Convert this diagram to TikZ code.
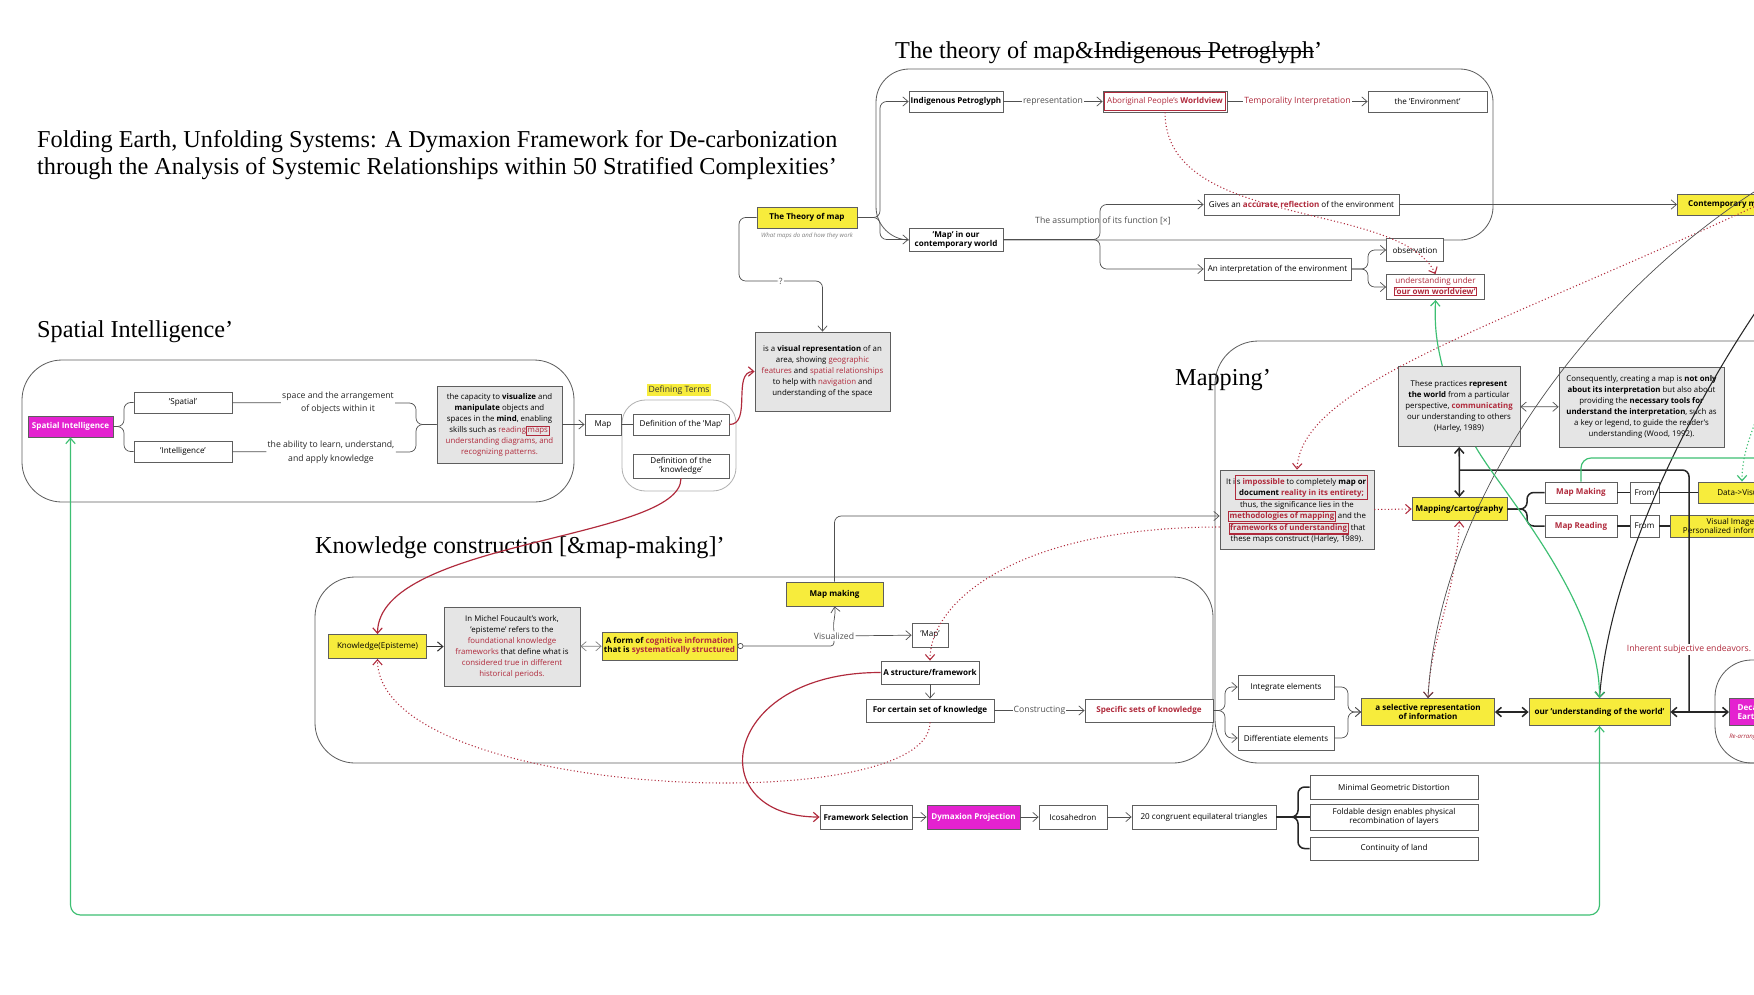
\documentclass[tikz,border=0pt]{standalone}
\usepackage{fontspec}
\setmainfont{Open Sans}
\newfontfamily\headfont{Liberation Serif}
\usetikzlibrary{positioning,arrows.meta}

\definecolor{ink}{HTML}{505050}
\definecolor{boxline}{HTML}{5E5E5E}
\definecolor{notefill}{HTML}{E5E5E5}
\definecolor{hilite}{HTML}{F7EC3C}
\definecolor{magent}{HTML}{E422D0}
\definecolor{wine}{HTML}{B02A3C}
\definecolor{leaf}{HTML}{3DBF72}

\newcommand{\rtxt}[1]{\textcolor{wine}{#1}}
\newcommand{\rbf}[1]{\textcolor{wine}{\textbf{#1}}}
\newcommand{\rframe}[2][notefill]{{\setlength{\fboxsep}{0.5pt}\setlength{\fboxrule}{0.9pt}\fcolorbox{wine}{#1}{#2}}}
\newsavebox{\strikebox}
\newcommand{\strikeout}[1]{\sbox{\strikebox}{#1}\rlap{\rule[0.27em]{\wd\strikebox}{0.05em}}\usebox{\strikebox}}

\begin{document}
\begin{tikzpicture}[x=0.3mm, y=-0.3mm,
  >={Straight Barb[length=1.6mm,width=2.8mm]},
  box/.style={draw=boxline, line width=0.7pt, fill=white, rectangle, inner sep=1pt, font=\fontsize{6.9}{7.8}\selectfont, align=center},
  bbox/.style={box, font=\fontsize{6.9}{7.8}\selectfont\bfseries},
  ybox/.style={box, fill=hilite},
  ybbox/.style={bbox, fill=hilite},
  mbox/.style={bbox, fill=magent, text=white},
  gbox/.style={box, fill=notefill, font=\fontsize{6.7}{9.4}\selectfont},
  lbl/.style={font=\fontsize{7.4}{11.5}\selectfont, text=ink, align=center, inner sep=1pt},
  grp/.style={draw=boxline, line width=0.7pt},
  ttl/.style={font=\headfont\fontsize{20.7}{22.5}\selectfont, anchor=west, inner sep=0pt, align=left},
  arr/.style={->, line width=0.6pt, draw=ink},
  link/.style={line width=0.6pt, draw=ink},
  heavy/.style={line width=1.3pt, draw=black!85},
  wred/.style={->, line width=1pt, draw=wine},
  dotr/.style={->, line width=0.9pt, draw=wine, dotted},
  lgreen/.style={line width=1pt, draw=leaf}
]
\useasboundingbox (0,0) rectangle (1754,994);
\fill[white] (0,0) rectangle (1754,994);

\node[ttl] (headmain) at (37,155) {Folding Earth, Unfolding Systems: A Dymaxion Framework for De-carbonization\\through the Analysis of Systemic Relationships within 50 Stratified Complexities’};
\node[ttl] (headtheory) at (895,53) {The theory of map\&\strikeout{Indigenous Petroglyph}’};
\node[ttl] (headspatial) at (37,332) {Spatial Intelligence’};
\node[ttl] (headknow) at (315,548) {Knowledge construction [\&map-making]’};
\node[ttl] (headmap) at (1175,380) {Mapping’};

\draw[grp, rounded corners=10mm] (876,69) rectangle (1493,240);
\draw[grp, rounded corners=12mm] (22,360) rectangle (574,502);
\draw[grp, rounded corners=12mm] (315,577) rectangle (1213,763);
\draw[grp, rounded corners=13mm] (1215,341) rectangle (1850,763);
\draw[grp, rounded corners=11mm] (1715,660) rectangle (1850,763);
\draw[grp, draw=gray!60, rounded corners=7mm] (622,400) rectangle (736,491);

\node[bbox, minimum width=28.2mm, minimum height=6.3mm] (ip) at (956,101.5) {Indigenous Petroglyph};
\node[box, minimum width=37.2mm, minimum height=6.3mm] (abo) at (1165,101.5) {\rtxt{Aboriginal People's \textbf{Worldview}}};
\draw[wine, line width=0.9pt] ([shift={(1.6pt,-1.6pt)}]abo.north west) rectangle ([shift={(-1.6pt,1.6pt)}]abo.south east);
\node[box, minimum width=35.7mm, minimum height=6.3mm] (env) at (1427.5,101.5) {the 'Environment'};
\node[ybbox, minimum width=30mm, minimum height=6.3mm] (theory) at (807,217.5) {The Theory of map};
\node[font=\fontsize{5.2}{6}\selectfont\itshape, text=gray] (theorycap) at (807,236) {What maps do and how they work};
\node[bbox, minimum width=28.2mm, minimum height=6.9mm] (cmap) at (956,239.5) {'Map' in our\\contemporary world};
\node[gbox, minimum width=40.5mm, minimum height=23.7mm] (visrep) at (822.5,371.5) {is a \textbf{visual representation} of an\\area, showing \rtxt{geographic}\\\rtxt{features} and \rtxt{spatial relationships}\\to help with \rtxt{navigation} and\\understanding of the space};
\node[box, minimum width=58.5mm, minimum height=6.3mm] (gives) at (1301.5,204.5) {Gives an \rbf{accurate reflection} of the environment};
\node[box, minimum width=44.1mm, minimum height=6.6mm] (interp) at (1277.5,269) {An interpretation of the environment};
\node[box, minimum width=17.1mm, minimum height=6.9mm] (obs) at (1415,250) {observation};
\node[box, minimum width=29.4mm, minimum height=7.5mm] (undr) at (1435.5,287) {\rtxt{understanding under}\\\rframe[white]{\rbf{'our own worldview'}}};
\node[ybbox, anchor=west, minimum width=30mm, minimum height=6.3mm] (contemp) at (1677,204.5) {Contemporary map};

\node[mbox, minimum width=25.5mm, minimum height=6.3mm] (si) at (70.5,426.5) {Spatial Intelligence};
\node[box, minimum width=29.4mm, minimum height=6.3mm] (sp) at (183,402.5) {'Spatial'};
\node[box, minimum width=29.4mm, minimum height=6.3mm] (intel) at (183,451.5) {'Intelligence'};
\node[lbl, text=black!85] (tsp) at (338,403) {space and the arrangement\\of objects within it};
\node[lbl, text=black!85] (tint) at (331,452) {the ability to learn, understand,\\and apply knowledge};
\node[gbox, minimum width=37.5mm, minimum height=23.1mm] (sgray) at (499.5,424.5) {the capacity to \textbf{visualize} and\\\textbf{manipulate} objects and\\spaces in the \textbf{mind}, enabling\\skills such as \rtxt{reading}\rframe{\rtxt{maps}}\\\rtxt{understanding diagrams, and}\\\rtxt{recognizing patterns.}};
\node[box, minimum width=10.8mm, minimum height=6.3mm] (mapn) at (603,424.5) {Map};
\node[lbl, fill=hilite, text=black!80] (dterms) at (679,390) {Defining Terms};
\node[box, minimum width=28.8mm, minimum height=6.3mm] (defmap) at (681,424.5) {Definition of the 'Map'};
\node[box, minimum width=28.8mm, minimum height=7.2mm] (defkn) at (681,466) {Definition of the\\'knowledge'};

\node[ybox, minimum width=29.4mm, minimum height=7.2mm] (know) at (377.5,646.5) {Knowledge(Episteme)};
\node[gbox, minimum width=40.8mm, minimum height=23.7mm] (fouc) at (512,646.5) {In Michel Foucault's work,\\'episteme' refers to the\\\rtxt{foundational knowledge}\\\rtxt{frameworks} that define what is\\\rtxt{considered true in different}\\\rtxt{historical periods.}};
\node[ybbox, minimum width=40.5mm, minimum height=8.4mm] (form) at (669.5,646) {A form of \rtxt{cognitive information}\\that is \rtxt{systematically structured}};
\node[lbl] (vis) at (834,636) {Visualized};
\node[ybbox, minimum width=29.1mm, minimum height=7.2mm] (mmak) at (834.5,594) {Map making};
\node[box, minimum width=10.8mm, minimum height=7.2mm] (qmap) at (930,635) {'Map'};
\node[bbox, minimum width=29.4mm, minimum height=6.9mm] (struct) at (930,672.5) {A structure/framework};
\node[bbox, minimum width=38.4mm, minimum height=6.9mm] (cert) at (930,710.5) {For certain set of knowledge};
\node[bbox, text=wine, minimum width=38.4mm, minimum height=6.9mm] (spec) at (1149,710.5) {Specific sets of knowledge};

\node[gbox, minimum width=46.2mm, minimum height=23.7mm] (imp) at (1297,509.5) {It i\rframe{\begin{tabular}[t]{@{}c@{}}s \rbf{impossible} to completely \textbf{map or}\\\textbf{document} \rbf{reality in its entirety;}\end{tabular}}\\thus, the significance lies in the\\\rframe{\rbf{methodologies of mapping}} and the\\\rframe{\rbf{frameworks of understanding}} that\\these maps construct (Harley, 1989).};
\node[gbox, minimum width=36.6mm, minimum height=24mm] (prac) at (1459,406.5) {These practices \textbf{represent}\\\textbf{the world} from a particular\\perspective, \rbf{communicating}\\our understanding to others\\(Harley, 1989)};
\node[gbox, minimum width=49.5mm, minimum height=24mm] (cons) at (1641.5,407) {Consequently, creating a map is \textbf{not only}\\\textbf{about its interpretation} but also about\\providing the \textbf{necessary tools for}\\\textbf{understand the interpretation}, such as\\a key or legend, to guide the reader's\\understanding (Wood, 1992).};
\node[ybbox, minimum width=28.5mm, minimum height=6.9mm] (mcart) at (1459.5,509) {Mapping/cartography};
\node[bbox, text=wine, minimum width=21.6mm, minimum height=6.3mm] (mmk) at (1581,492.5) {Map Making};
\node[bbox, text=wine, minimum width=21.6mm, minimum height=6.6mm] (mrd) at (1581,526) {Map Reading};
\node[box, minimum width=8.7mm, minimum height=6.3mm] (from1) at (1644.5,492.5) {From};
\node[box, minimum width=8.7mm, minimum height=6.6mm] (from2) at (1644.5,526) {From};
\node[ybox, anchor=west, align=left, minimum width=33mm, minimum height=6.3mm] (dvis) at (1698,492.5) {Data->Visualization};
\node[ybox, anchor=west, minimum width=36mm, minimum height=6.6mm] (vimg) at (1670,526) {Visual Image\\Personalized information};
\node[box, minimum width=28.8mm, minimum height=7.2mm] (integ) at (1286,687) {Integrate elements};
\node[box, minimum width=28.8mm, minimum height=7.2mm] (diff) at (1286,738) {Differentiate elements};
\node[ybbox, minimum width=39.9mm, minimum height=8.1mm] (selrep) at (1428,712) {a selective representation\\of information};
\node[ybbox, minimum width=42.3mm, minimum height=8.1mm] (undw) at (1599.5,712) {our 'understanding of the world'};
\node[mbox, anchor=west, align=left, minimum width=20mm, minimum height=8.1mm] (dec) at (1729,712) {Decarbonize\\Earth};
\node[anchor=west, font=\fontsize{5.2}{6}\selectfont\itshape, text=wine, inner sep=0pt] (decnote) at (1729,737) {Re-arranging};

\node[bbox, minimum width=27.6mm, minimum height=7.2mm] (fsel) at (866,817) {Framework Selection};
\node[mbox, minimum width=27.9mm, minimum height=7.2mm] (dym) at (973.5,817) {Dymaxion Projection};
\node[box, minimum width=20.4mm, minimum height=7.2mm] (ico) at (1073,817) {Icosahedron};
\node[box, minimum width=43.2mm, minimum height=7.2mm] (tri) at (1204,817) {20 congruent equilateral triangles};
\node[box, minimum width=50.4mm, minimum height=7.2mm] (mgd) at (1394,787) {Minimal Geometric Distortion};
\node[box, minimum width=50.4mm, minimum height=7.8mm] (fold) at (1394,817) {Foldable design enables physical\\recombination of layers};
\node[box, minimum width=50.4mm, minimum height=6.9mm] (cont) at (1394,848.5) {Continuity of land};

\coordinate (offA) at (1800,185);
\coordinate (offB) at (1800,165);
\coordinate (offC) at (1800,250);
\coordinate (kA) at (1459,470);
\coordinate (kB) at (1689,712);
\coordinate (gE) at (1800,458);
\coordinate (gD) at (1765,380);

\draw[arr, rounded corners=2mm] (theory.east) -- (880,217.5) |- (ip.west);
\draw[arr, rounded corners=2mm] (theory.east) -- (880,217.5) |- (cmap.west);
\draw[arr, rounded corners=2mm] (theory.west) -- (739,217.5) -- (739,281) -- node[lbl, fill=white] {?} (822.5,281) -- (visrep.north);
\draw[arr] (ip) -- node[lbl, fill=white] {representation} (abo);
\draw[arr] (abo) -- node[lbl, fill=white, text=wine] {Temporality Interpretation} (env);
\draw[arr, rounded corners=2mm] (cmap.east) -- (1100,239.5) |- (gives.west);
\draw[arr, rounded corners=2mm] (cmap.east) -- (1100,239.5) |- (interp.west);
\node[lbl] (asmp) at (1103,221) {The assumption of its function [×]};
\draw[arr] (gives) -- (contemp);
\draw[arr, rounded corners=2mm] (interp.east) -- (1368,269) |- (obs.west);
\draw[arr, rounded corners=2mm] (interp.east) -- (1368,269) |- (undr.west);

\draw[link, rounded corners=2mm] (si.east) -- (124,426.5) |- (sp.west);
\draw[link, rounded corners=2mm] (si.east) -- (124,426.5) |- (intel.west);
\draw[link] (sp) -- (tsp);
\draw[link] (intel) -- (tint);
\draw[link, rounded corners=2mm] (tsp.east) -- (416,403) |- (sgray.west);
\draw[link, rounded corners=2mm] (tint.east) -- (416,452) |- (sgray.west);
\draw[arr] (sgray) -- (mapn);
\draw[link] (mapn) -- (defmap);
\draw[wred] (defmap.east) to[out=0,in=180] (visrep.west);
\draw[wred] (defkn.south) .. controls (681,540) and (378,540) .. (know.north);

\draw[->, line width=0.9pt, draw=black!80] (know) -- (fouc);
\draw[<->, line width=0.6pt, draw=gray] (fouc) -- (form);
\draw[link, {Circle[open,length=1.8mm,width=1.8mm]}-, rounded corners=1mm] (form.east) -- (822,646) -| (vis.south);
\draw[arr] (vis.north) to[out=100,in=-80] (mmak.south);
\draw[arr] (vis) -- (qmap);
\draw[arr, rounded corners=2mm] (mmak.north) |- ([yshift=-1.95mm]imp.west);
\draw[arr] (struct) -- (cert);
\draw[arr] (cert) -- node[lbl, fill=white] {Constructing} (spec);
\draw[wred] (struct.west) .. controls (720,672) and (700,817) .. (fsel.west);
\draw[dotr] (cert.south) .. controls (930,820) and (378,800) .. (know.south);
\draw[dotr] ([yshift=-5.25mm]imp.west) .. controls (1020,527) and (930,600) .. (struct.north);

\draw[arr] (fsel) -- (dym);
\draw[arr] (dym) -- (ico);
\draw[arr] (ico) -- (tri);
\draw[heavy, rounded corners=2mm] (tri.east) -- (1298,817) |- (mgd.west);
\draw[heavy, rounded corners=2mm] (tri.east) -- (1298,817) |- (cont.west);
\draw[heavy] (tri.east) -- (fold.west);

\draw[arr, rounded corners=2mm] (spec.east) -- (1225,710.5) |- (integ.west);
\draw[arr, rounded corners=2mm] (spec.east) -- (1225,710.5) |- (diff.west);
\draw[arr, rounded corners=2mm] (integ.east) -- (1348,687) |- (selrep.west);
\draw[arr, rounded corners=2mm] (diff.east) -- (1348,738) |- (selrep.west);
\draw[heavy, <->] (selrep) -- (undw);
\draw[heavy, <->] (undw) -- (dec);
\draw[heavy, <->] (prac) -- (mcart);
\draw[heavy, rounded corners=2mm] (kA) -| (kB);
\draw[<->, line width=0.6pt, draw=ink] (prac) -- (cons);
\draw[heavy, rounded corners=2mm] (mcart.east) -- (1527,509) |- (mmk.west);
\draw[heavy, rounded corners=2mm] (mcart.east) -- (1527,509) |- (mrd.west);
\draw[heavy, line width=1pt] (mmk) -- (from1) -- (dvis);
\draw[heavy, line width=1pt] (mrd) -- (from2) -- (vimg);

\draw[dotr] (abo.south) .. controls (1165,230) and (1400,200) .. (undr.north);
\draw[dotr] (offA) .. controls (1520,320) and (1301,380) .. (imp.north);
\draw[dotr] (imp.east) -- (mcart.west);
\draw[dotr, <->] (mcart.south) .. controls (1455,600) and (1430,640) .. (selrep.north);
\draw[arr] (offB) .. controls (1620,260) and (1440,480) .. (selrep.north);
\draw[->, line width=0.9pt, draw=black!85] (offC) .. controls (1700,380) and (1610,560) .. (undw.north);

\draw[lgreen, ->] ([xshift=-5mm]prac.north) to[bend left=8] (undr.south);
\draw[lgreen, ->] ([xshift=5mm]prac.south) .. controls (1500,490) and (1600,600) .. (undw.north);
\draw[lgreen, <->, rounded corners=3mm] (si.south) -- (70.5,915) -| (undw.south);
\draw[lgreen, rounded corners=3mm] (mmk.north) |- (gE);
\draw[lgreen, dotted, ->] (gD) to[out=-95,in=90] ([xshift=13.2mm]dvis.north west);

\node[lbl, text=wine, fill=white] (inh) at (1689,649) {Inherent subjective endeavors.};
\end{tikzpicture}
\end{document}
